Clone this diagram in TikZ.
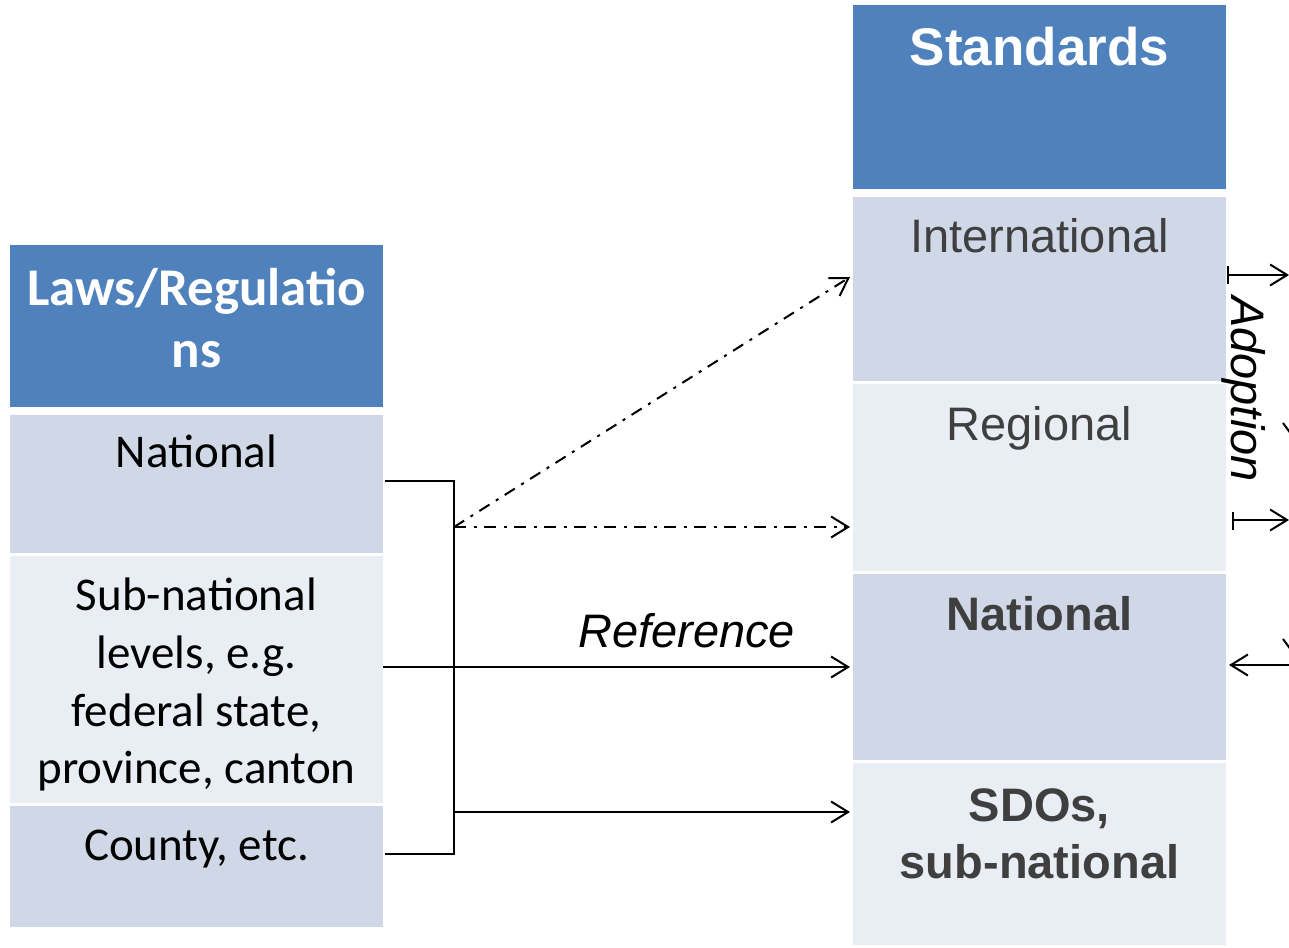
\documentclass[tikz,border=0pt]{standalone}
\usepackage{fontspec}
\usetikzlibrary{arrows.meta}
\newfontfamily\calfont{Carlito}
\newfontfamily\arifont{Liberation Sans}
\definecolor{hdrblue}{HTML}{4F81BD}
\definecolor{rowdark}{HTML}{D0D8E8}
\definecolor{rowlight}{HTML}{E9EDF4}
\definecolor{txtgray}{HTML}{3F3F3F}
\tikzset{
  cell/.style={draw=none, minimum width=373pt, inner sep=0pt, outer sep=0pt},
  hdr/.style={cell, fill=hdrblue},
  dark/.style={cell, fill=rowdark},
  light/.style={cell, fill=rowlight},
  ltxt/.style={inner sep=0pt, anchor=base, font=\calfont\fontsize{47}{57}\selectfont},
  lhtxt/.style={inner sep=0pt, anchor=base, text=white, font=\calfont\bfseries\fontsize{53}{63}\selectfont},
  rtxt/.style={inner sep=0pt, anchor=base, text=txtgray, font=\arifont\fontsize{47}{57}\selectfont},
  rbtxt/.style={inner sep=0pt, anchor=base, text=txtgray, font=\arifont\bfseries\fontsize{47}{57}\selectfont},
  rhtxt/.style={inner sep=0pt, anchor=base, text=white, font=\arifont\bfseries\fontsize{53}{63}\selectfont},
  conn/.style={line width=2pt},
  arr/.style={conn, -{Straight Barb[length=17pt,width=21pt,line width=2pt]}},
  dd/.style={dash pattern=on 12pt off 7.5pt on 3pt off 7.5pt},
}
\begin{document}
\begin{tikzpicture}[x=1pt,y=-1pt]
\useasboundingbox (0,0) rectangle (1289,947);
\clip (0,0) rectangle (1289,947);
% left table
\node[hdr, minimum height=162pt] (lhead) at (196.5,326) {};
\node[dark, minimum height=138pt] (lnat) at (196.5,484) {};
\node[light, minimum height=247pt] (lsub) at (196.5,679.5) {};
\node[dark, minimum height=121pt] (lcty) at (196.5,866.5) {};
\node[lhtxt] (lh1) at (196.5,305) {Laws/Regulatio};
\node[lhtxt] (lh2) at (196.5,367) {ns};
\node[ltxt] (ln) at (196.5,467) {National};
\node[ltxt] (ls1) at (196.5,610) {Sub-national};
\node[ltxt] (ls2) at (196.5,668) {levels, e.g.};
\node[ltxt] (ls3) at (196.5,726) {federal state,};
\node[ltxt] (ls4) at (196.5,783) {province, canton};
\node[ltxt] (lc) at (196.5,860) {County, etc.};
% right table
\node[hdr, minimum height=184pt] (rhead) at (1039.5,97) {};
\node[dark, minimum height=184pt] (rint) at (1039.5,289) {};
\node[light, minimum height=187pt] (rreg) at (1039.5,477.5) {};
\node[dark, minimum height=186pt] (rnat) at (1039.5,667) {};
\node[light, minimum height=182pt] (rsdo) at (1039.5,854) {};
\node[rhtxt] (rh) at (1039.5,66) {Standards};
\node[rtxt] (ri) at (1039.5,252) {International};
\node[rtxt] (rr) at (1039.5,440) {Regional};
\node[rbtxt] (rn) at (1039.5,630) {National};
\node[rbtxt] (rs1) at (1039.5,821) {SDOs,};
\node[rbtxt] (rs2) at (1039.5,878) {sub-national};
% bracket on the left
\coordinate (bt0) at (385,481);
\coordinate (bt) at (454,481);
\coordinate (bb) at (454,854);
\coordinate (bb0) at (385,854);
\coordinate (jdd) at (454,527);
\coordinate (jsd) at (454,812);
\coordinate (ref0) at (383,667);
\draw[conn] (bt0) -- (bt) -- (bb) -- (bb0);
% target points
\coordinate (tint) at (850,277);
\coordinate (treg) at (850,527);
\coordinate (tnat) at (850,667);
\coordinate (tsdo) at (850,812);
\draw[arr, dd] (jdd) -- (tint);
\draw[arr, dd] (jdd) -- (treg);
\draw[arr] (ref0) -- node[pos=0.65, above=18pt, inner sep=0pt, font=\arifont\itshape\fontsize{47}{57}\selectfont] (reflbl) {Reference} (tnat);
\draw[arr] (jsd) -- (tsdo);
% adoption arrows on the right edge
\coordinate (a1t) at (1228,266);
\coordinate (a1b) at (1228,284);
\coordinate (a1s) at (1228,275);
\coordinate (a1e) at (1289,275);
\draw[conn] (a1t) -- (a1b);
\draw[arr] (a1s) -- (a1e);
\coordinate (a3t) at (1233,512);
\coordinate (a3b) at (1233,530);
\coordinate (a3s) at (1233,520);
\coordinate (a3e) at (1289,520);
\draw[conn] (a3t) -- (a3b);
\draw[arr] (a3s) -- (a3e);
\coordinate (a4s) at (1300,665);
\coordinate (a4e) at (1229,665);
\draw[arr] (a4s) -- (a4e);
\coordinate (p1a) at (1283,423);
\coordinate (p1b) at (1291,434);
\draw[conn] (p1a) -- (p1b);
\coordinate (p2a) at (1283,639);
\coordinate (p2b) at (1291,650);
\draw[conn] (p2a) -- (p2b);
\node[rotate=-90, inner sep=0pt, font=\arifont\itshape\fontsize{47}{57}\selectfont] (adopt) at (1244,389) {Adoption};
\end{tikzpicture}
\end{document}
